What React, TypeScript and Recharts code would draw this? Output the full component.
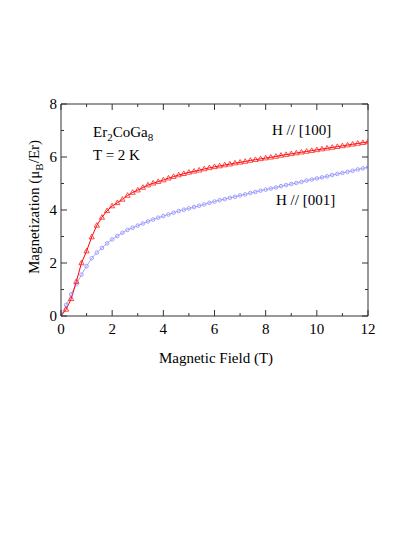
import React from "react";
import { LineChart, Line, XAxis, YAxis } from "recharts";

// field values (T)
const field = [
  0, 0.2, 0.4, 0.6, 0.8, 1.0, 1.2, 1.4, 1.6, 1.8, 2.0, 2.2, 2.4, 2.6, 2.8, 3.0,
  3.2, 3.4, 3.6, 3.8, 4.0, 4.2, 4.4, 4.6, 4.8, 5.0, 5.2, 5.4, 5.6, 5.8, 6.0,
  6.2, 6.4, 6.6, 6.8, 7.0, 7.2, 7.4, 7.6, 7.8, 8.0, 8.2, 8.4, 8.6, 8.8, 9.0,
  9.2, 9.4, 9.6, 9.8, 10.0, 10.2, 10.4, 10.6, 10.8, 11.0, 11.2, 11.4, 11.6,
  11.8, 12.0,
];

// H // [100]  (muB/Er)
const m100 = [
  0, 0.25, 0.65, 1.3, 2.0, 2.45, 2.98, 3.42, 3.72, 3.97, 4.15, 4.27, 4.4,
  4.55, 4.66, 4.75, 4.85, 4.94, 5.01, 5.07, 5.13, 5.2, 5.26, 5.32, 5.37, 5.42,
  5.46, 5.5, 5.55, 5.59, 5.63, 5.66, 5.7, 5.73, 5.77, 5.8, 5.83, 5.87, 5.9,
  5.93, 5.96, 5.99, 6.02, 6.06, 6.09, 6.12, 6.15, 6.18, 6.21, 6.24, 6.27, 6.3,
  6.33, 6.36, 6.39, 6.42, 6.45, 6.48, 6.51, 6.54, 6.57,
];

// H // [001]  (muB/Er)
const m001 = [
  0, 0.42, 0.82, 1.2, 1.56, 1.88, 2.18, 2.39, 2.57, 2.74, 2.89, 3.02, 3.14,
  3.25, 3.33, 3.41, 3.49, 3.57, 3.64, 3.71, 3.77, 3.83, 3.9, 3.96, 4.01, 4.06,
  4.11, 4.16, 4.21, 4.27, 4.32, 4.37, 4.41, 4.46, 4.5, 4.55, 4.59, 4.64, 4.68,
  4.73, 4.77, 4.81, 4.85, 4.9, 4.94, 4.98, 5.02, 5.06, 5.11, 5.15, 5.19, 5.23,
  5.27, 5.32, 5.36, 5.4, 5.44, 5.48, 5.53, 5.57, 5.61,
];

const xTicks = [0, 1, 2, 3, 4, 5, 6, 7, 8, 9, 10, 11, 12];
const yTicks = [0, 1, 2, 3, 4, 5, 6, 7, 8];

const rows = field.map((h, i) => ({ h, a: m100[i], c: m001[i] }));

const FONT = "'Liberation Serif', 'Times New Roman', serif";
const AXIS = "#333";

const isMajor = (v: number) => v % 2 === 0;

// custom ticks: tick lines point inward, only even values get labels
const BottomTick = (p: any) => {
  const v = p.payload.value;
  return (
    <g>
      <line x1={p.x} x2={p.x} y1={p.y} y2={p.y - (isMajor(v) ? 6 : 3)} stroke={AXIS} />
      {isMajor(v) && (
        <text x={p.x} y={p.y + 18} textAnchor="middle" fontSize={15} fontFamily={FONT} fill="#000">
          {v}
        </text>
      )}
    </g>
  );
};

const TopTick = (p: any) => {
  const v = p.payload.value;
  return <line x1={p.x} x2={p.x} y1={p.y} y2={p.y + (isMajor(v) ? 6 : 3)} stroke={AXIS} />;
};

const LeftTick = (p: any) => {
  const v = p.payload.value;
  return (
    <g>
      <line x1={p.x} x2={p.x + (isMajor(v) ? 6 : 3)} y1={p.y} y2={p.y} stroke={AXIS} />
      {isMajor(v) && (
        <text x={p.x - 4} y={p.y + 5} textAnchor="end" fontSize={15} fontFamily={FONT} fill="#000">
          {v}
        </text>
      )}
    </g>
  );
};

const RightTick = (p: any) => {
  const v = p.payload.value;
  return <line x1={p.x} x2={p.x - (isMajor(v) ? 6 : 3)} y1={p.y} y2={p.y} stroke={AXIS} />;
};

const Triangle = (p: any) => {
  const { cx, cy } = p;
  if (cx == null || cy == null) return <g key={p.key} />;
  return (
    <path
      key={p.key}
      d={`M${cx},${cy - 2.8} L${cx + 2.6},${cy + 1.8} L${cx - 2.6},${cy + 1.8} Z`}
      fill="none"
      stroke="#ff2020"
      strokeWidth={0.8}
    />
  );
};

const Circle = (p: any) => {
  const { cx, cy } = p;
  if (cx == null || cy == null) return <g key={p.key} />;
  return <circle key={p.key} cx={cx} cy={cy} r={1.8} fill="none" stroke="#8c8cff" strokeWidth={0.8} />;
};

export default function App() {
  const txt = { fontFamily: FONT, fontSize: 15, fill: "#000" };
  return (
    <div style={{ position: "absolute", left: 0, top: 0, width: 415, height: 537, background: "#fff" }}>
      <LineChart
        width={415}
        height={537}
        data={rows}
        margin={{ top: 103, right: 46, bottom: 220, left: 60 }}
      >
        <XAxis
          dataKey="h"
          type="number"
          domain={[0, 12]}
          ticks={xTicks}
          interval={0}
          allowDataOverflow
          height={1}
          tickSize={0}
          tickMargin={0}
          tickLine={false}
          stroke={AXIS}
          tick={<BottomTick />}
        />
        <XAxis
          xAxisId="top"
          orientation="top"
          dataKey="h"
          type="number"
          domain={[0, 12]}
          ticks={xTicks}
          interval={0}
          allowDataOverflow
          height={1}
          tickSize={0}
          tickMargin={0}
          tickLine={false}
          stroke={AXIS}
          tick={<TopTick />}
        />
        <YAxis
          type="number"
          domain={[0, 8]}
          ticks={yTicks}
          interval={0}
          allowDataOverflow
          width={1}
          tickSize={0}
          tickMargin={0}
          tickLine={false}
          stroke={AXIS}
          tick={<LeftTick />}
        />
        <YAxis
          yAxisId="right"
          orientation="right"
          type="number"
          domain={[0, 8]}
          ticks={yTicks}
          interval={0}
          allowDataOverflow
          width={1}
          tickSize={0}
          tickMargin={0}
          tickLine={false}
          stroke={AXIS}
          tick={<RightTick />}
        />
        <Line
          xAxisId="top"
          yAxisId="right"
          dataKey="c"
          stroke="#a8a8ff"
          strokeWidth={1}
          dot={Circle}
          isAnimationActive={false}
        />
        <Line
          dataKey="a"
          stroke="#ff0000"
          strokeWidth={1}
          dot={Triangle}
          isAnimationActive={false}
        />
      </LineChart>
      <svg
        width={415}
        height={537}
        style={{ position: "absolute", left: 0, top: 0, pointerEvents: "none" }}
      >
        <text x={93} y={137} {...txt}>
          Er<tspan dy={4} fontSize={11}>2</tspan>
          <tspan dy={-4}>CoGa</tspan>
          <tspan dy={4} fontSize={11}>8</tspan>
        </text>
        <text x={93} y={160} {...txt}>T = 2 K</text>
        <text x={272} y={135} {...txt}>H // [100]</text>
        <text x={276} y={205} {...txt}>H // [001]</text>
        <text x={216} y={363} textAnchor="middle" {...txt}>Magnetic Field (T)</text>
        <text x={39} y={207} textAnchor="middle" transform="rotate(-90 39 207)" {...txt}>
          Magnetization (μ<tspan dy={4} fontSize={11}>B</tspan>
          <tspan dy={-4}>/Er)</tspan>
        </text>
      </svg>
    </div>
  );
}
